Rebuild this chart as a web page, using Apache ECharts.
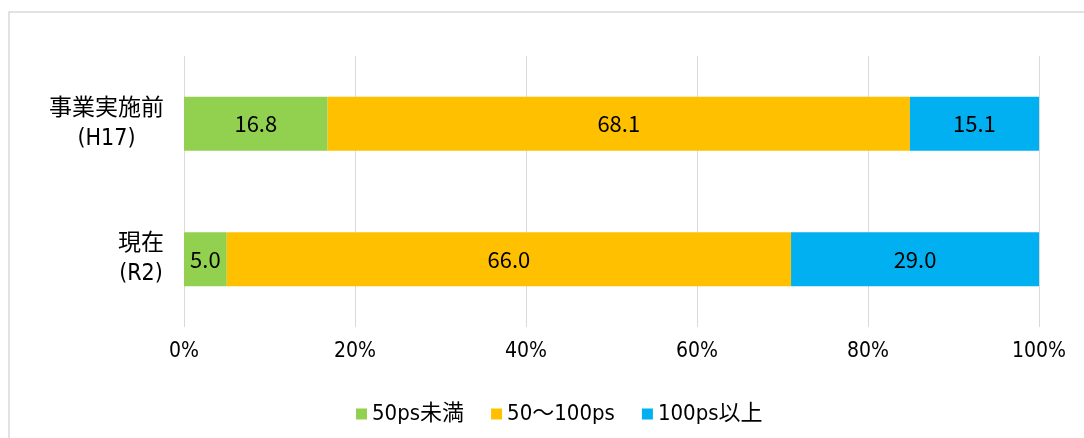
<!DOCTYPE html>
<html>
<head>
<meta charset="utf-8">
<script src="https://cdn.jsdelivr.net/npm/echarts@6/dist/echarts.min.js"></script>
<style>
  html, body { margin: 0; padding: 0; background: #ffffff; }
  #chart { width: 1084px; height: 438px; }
</style>
</head>
<body>
<div id="chart"></div>
<script>
// Period labels (top to bottom)
const categories = ['事業実施前\n(H17)', '現在\n(R2)'];

// Share of each class per period (%)
const seriesNames = ['50ps未満', '50〜100ps', '100ps以上'];
const under50 = [16.8, 5.0];
const from50to100 = [68.1, 66.0];
const over100 = [15.1, 29.0];

// Percent axis ticks
const xTicks = [0, 20, 40, 60, 80, 100];

const colors = ['#92d050', '#ffc000', '#00b0f0'];
const latinCjk = '"DejaVu Sans Condensed", "Noto Sans CJK JP", sans-serif';
const labelFont = '"Noto Sans CJK JP", sans-serif';

function barSeries(name, values, color) {
  return {
    name: name,
    type: 'bar',
    stack: 'share',
    barWidth: 54,
    data: values,
    itemStyle: { color: color },
    label: {
      show: true,
      position: 'inside',
      color: '#000000',
      fontFamily: labelFont,
      fontSize: 22,
      formatter: p => p.value.toFixed(1)
    },
    emphasis: { disabled: true }
  };
}

const chart = echarts.init(document.getElementById('chart'), null, { renderer: 'canvas' });
chart.setOption({
  animation: false,
  backgroundColor: '#ffffff',
  graphic: [{
    type: 'rect',
    shape: { x: 9, y: 12, width: 1200, height: 600 },
    style: { fill: 'none', stroke: '#d9d9d9', lineWidth: 1.5 },
    silent: true,
    z: -1
  }],
  grid: { left: 184, right: 45, top: 56, bottom: 111, containLabel: false },
  xAxis: {
    type: 'value',
    min: xTicks[0],
    max: xTicks[xTicks.length - 1],
    interval: xTicks[1] - xTicks[0],
    axisLine: { show: false },
    axisTick: { show: false },
    splitLine: { show: true, lineStyle: { color: '#d9d9d9', width: 1 } },
    axisLabel: {
      margin: 14,
      color: '#000000',
      fontFamily: latinCjk,
      fontSize: 21,
      formatter: '{value}%'
    }
  },
  yAxis: {
    type: 'category',
    inverse: true,
    data: categories,
    axisLine: { show: false },
    axisTick: { show: false },
    splitLine: { show: false },
    axisLabel: {
      margin: 20,
      align: 'right',
      formatter: v => v.split('\n').map(s => '{c|' + s + '}').join('\n'),
      rich: {
        c: {
          align: 'center',
          color: '#000000',
          fontFamily: latinCjk,
          fontSize: 23,
          lineHeight: 30
        }
      }
    }
  },
  legend: {
    data: seriesNames,
    left: 351,
    top: 398,
    itemWidth: 11,
    itemHeight: 11,
    itemGap: 27,
    icon: 'rect',
    textStyle: { color: '#000000', fontFamily: latinCjk, fontSize: 22 }
  },
  series: [
    barSeries(seriesNames[0], under50, colors[0]),
    barSeries(seriesNames[1], from50to100, colors[1]),
    barSeries(seriesNames[2], over100, colors[2])
  ]
});
</script>
</body>
</html>
